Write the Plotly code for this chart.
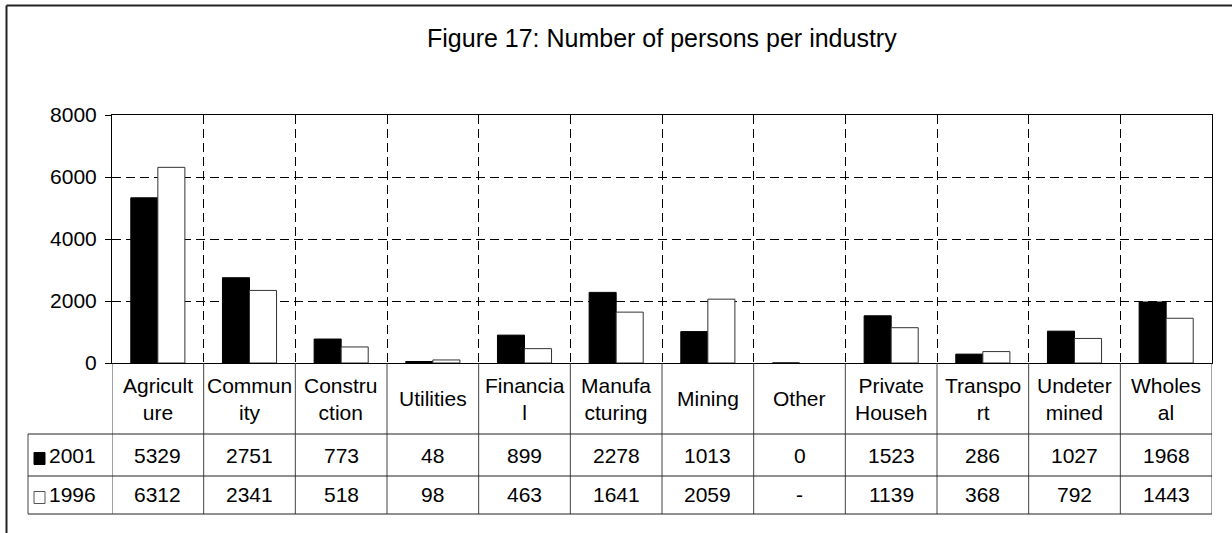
import plotly.graph_objects as go

# ---------------- data ----------------
categories = ["Agriculture", "Community", "Construction", "Utilities", "Financial",
              "Manufacturing", "Mining", "Other", "Private Households", "Transport",
              "Undetermined", "Wholesale"]
header_labels = ["Agricult<br>ure", "Commun<br>ity", "Constru<br>ction", "Utilities",
                 "Financia<br>l", "Manufa<br>cturing", "Mining", "Other",
                 "Private<br>Househ", "Transpo<br>rt", "Undeter<br>mined", "Wholes<br>al"]
values_2001 = [5329, 2751, 773, 48, 899, 2278, 1013, 0, 1523, 286, 1027, 1968]
values_1996 = [6312, 2341, 518, 98, 463, 1641, 2059, None, 1139, 368, 792, 1443]
series_names = ["2001", "1996"]
y_ticks = [0, 2000, 4000, 6000, 8000]
title_text = "Figure 17: Number of persons per industry"

# ---------------- layout geometry (pixels) ----------------
W, H = 1232, 533
L, R, T, B = 112, 20, 115, 170
PW = W - L - R
PH = H - T - B
FONT = "Liberation Sans, Arial, sans-serif"


def px_x(px):
    return (px - L) / PW


def px_y(py):
    return (H - B - py) / PH


fig = go.Figure()
fig.add_trace(go.Bar(x=categories, y=values_2001, name=series_names[0],
                     marker=dict(color="black", line=dict(color="black", width=1))))
fig.add_trace(go.Bar(x=categories, y=values_1996, name=series_names[1],
                     marker=dict(color="white", line=dict(color="#333333", width=1))))

shapes = []
annotations = []

# table geometry
y_head_bot = 434
y_row1_bot = 476
y_row2_bot = 514
x_leg_left = 28

n = len(categories)
line_col = "#444444"
# vertical lines at category boundaries
for i in range(n + 1):
    shapes.append(dict(type="line", xref="x", yref="paper", x0=i - 0.5, x1=i - 0.5,
                       y0=0, y1=px_y(y_row2_bot), line=dict(color=line_col, width=1)))
# legend column left border
shapes.append(dict(type="line", xref="paper", yref="paper", x0=px_x(x_leg_left), x1=px_x(x_leg_left),
                   y0=px_y(y_head_bot), y1=px_y(y_row2_bot), line=dict(color=line_col, width=1)))
# horizontal lines
for yy in (y_head_bot, y_row1_bot, y_row2_bot):
    shapes.append(dict(type="line", xref="paper", yref="paper", x0=px_x(x_leg_left), x1=1,
                       y0=px_y(yy), y1=px_y(yy), line=dict(color="#222222", width=1)))

# header labels
for cat, lab in zip(categories, header_labels):
    annotations.append(dict(x=cat, xref="x", y=px_y(398.5), yref="paper", text=lab,
                            showarrow=False, xanchor="center", yanchor="middle",
                            font=dict(family=FONT, size=21, color="black")))

# values
row_centers = [455.5, 494.5]
for vals, yc in zip([values_2001, values_1996], row_centers):
    for cat, v in zip(categories, vals):
        txt = "-" if v is None else str(v)
        annotations.append(dict(x=cat, xref="x", y=px_y(yc), yref="paper", text=txt,
                                showarrow=False, xanchor="center", yanchor="middle",
                                font=dict(family=FONT, size=21, color="black")))

# legend keys in table
key_fill = ["black", "white"]
key_line = ["black", "#555555"]
for name, yc, fc, lc in zip(series_names, row_centers, key_fill, key_line):
    shapes.append(dict(type="rect", xref="paper", yref="paper",
                       x0=px_x(34), x1=px_x(45), y0=px_y(yc - 3), y1=px_y(yc + 9),
                       fillcolor=fc, line=dict(color=lc, width=1)))
    annotations.append(dict(x=px_x(47), xref="paper", y=px_y(yc), yref="paper", text=name,
                            showarrow=False, xanchor="left", yanchor="middle",
                            font=dict(family=FONT, size=21, color="black")))

# outer chart frame (clipped by the image)
shapes.append(dict(type="line", xref="paper", yref="paper", x0=px_x(6.5), x1=px_x(6.5),
                   y0=px_y(5.5), y1=px_y(H + 5), line=dict(color="#222222", width=2)))
shapes.append(dict(type="line", xref="paper", yref="paper", x0=px_x(6.5), x1=px_x(W + 5),
                   y0=px_y(5.5), y1=px_y(5.5), line=dict(color="#222222", width=2)))

# title
annotations.append(dict(x=0.5, xref="paper", y=px_y(38), yref="paper", text=title_text,
                        showarrow=False, xanchor="center", yanchor="middle",
                        font=dict(family=FONT, size=25, color="black")))

fig.update_layout(
    width=W, height=H,
    margin=dict(l=L, r=R, t=T, b=B, pad=0),
    paper_bgcolor="white", plot_bgcolor="white",
    barmode="group", bargap=0.41, bargroupgap=0,
    showlegend=False,
    shapes=shapes, annotations=annotations,
    font=dict(family=FONT, size=21, color="black"),
)
fig.update_xaxes(type="category", tickson="boundaries", showticklabels=False, ticks="",
                 showgrid=True, gridcolor="black", gridwidth=1, griddash="9px,5px",
                 showline=True, linecolor="black", linewidth=1, mirror=True,
                 range=[-0.5, n - 0.5], fixedrange=True)
fig.update_yaxes(range=[0, 8000], tickvals=y_ticks, ticks="outside", ticklen=6,
                 tickcolor="black", ticklabelstandoff=4,
                 showgrid=True, gridcolor="black", gridwidth=1, griddash="9px,5px",
                 showline=True, linecolor="black", linewidth=1, mirror=True,
                 zeroline=False, tickfont=dict(family=FONT, size=21, color="black"))

fig.write_html("out.html", config={"displayModeBar": False},
               post_script="document.body.style.margin='0';document.body.style.overflow='hidden';")
